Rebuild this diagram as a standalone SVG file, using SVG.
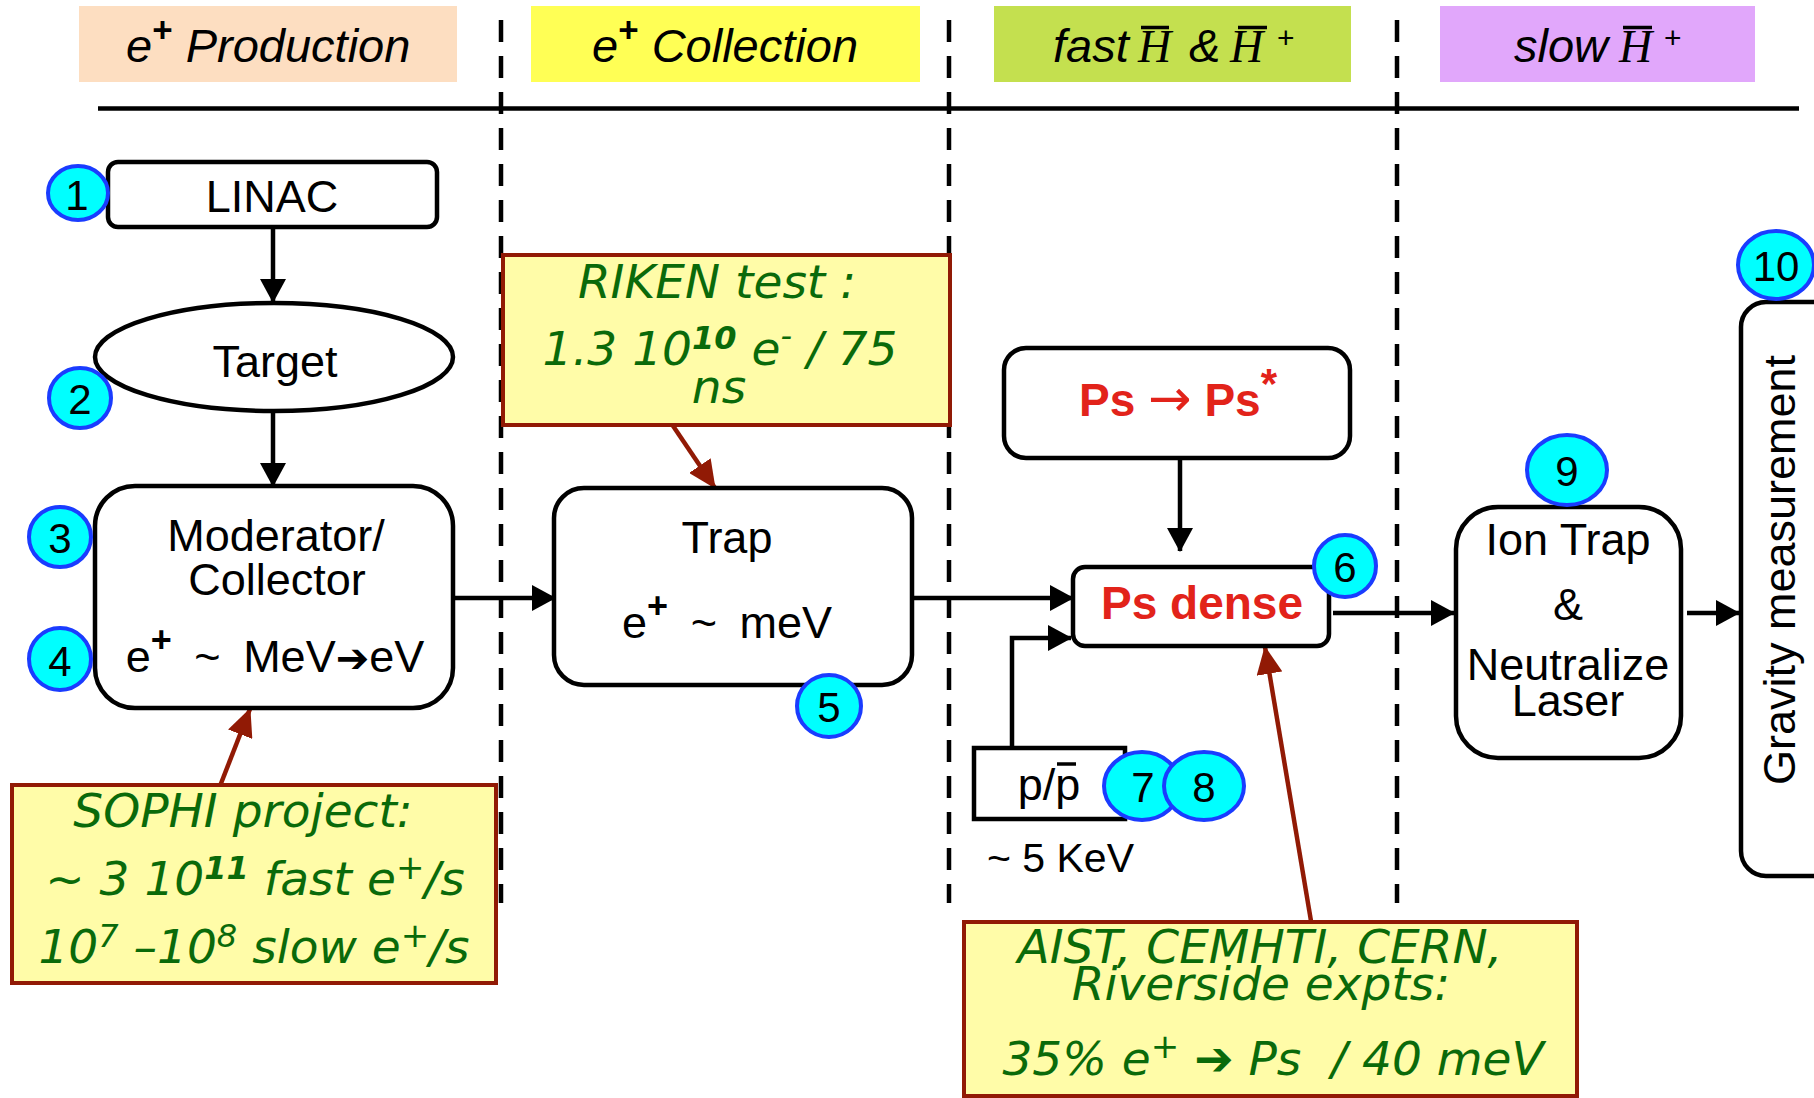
<svg xmlns="http://www.w3.org/2000/svg" width="1814" height="1098" viewBox="0 0 1814 1098">
<style>
.lbl{font-family:"Liberation Sans",Arial,sans-serif;font-size:45px;fill:#000;text-anchor:middle}
.hdr{font-family:"Liberation Sans",Arial,sans-serif;font-size:47px;font-style:italic;fill:#000}
.hser{font-family:"Liberation Serif","Times New Roman",serif;font-style:italic;font-size:46px;fill:#000}
.box{fill:#fff;stroke:#000;stroke-width:4.5}
.badge ellipse{fill:#00FFFF;stroke:#1A3CFF;stroke-width:4}
.badge text{font-family:"Liberation Sans",Arial,sans-serif;font-size:42px;fill:#000;text-anchor:middle}
.call rect{fill:#FFFCA8;stroke:#911A05;stroke-width:4}
.ct{font-family:"DejaVu Sans",Verdana,sans-serif;font-style:italic;font-size:47px;fill:#0A6A0A;text-anchor:middle}
.conn{stroke:#000;stroke-width:4.5;fill:none}
.rconn{stroke:#911A05;stroke-width:4.5;fill:none}
.dash{stroke:#000;stroke-width:4.5;stroke-dasharray:22 14}
.red{font-family:"Liberation Sans",Arial,sans-serif;font-weight:bold;font-size:46px;fill:#E2231A;text-anchor:middle}
.bar{stroke:#000;stroke-width:3.5}
</style>
<defs>
<marker id="ah" markerUnits="userSpaceOnUse" markerWidth="24" markerHeight="26" refX="23" refY="13" orient="auto" viewBox="0 0 24 26"><path d="M0,0 L24,13 L0,26 z" fill="#000"/></marker>
<marker id="rah" markerUnits="userSpaceOnUse" markerWidth="28" markerHeight="26" refX="27" refY="13" orient="auto" viewBox="0 0 28 26"><path d="M0,0 L28,13 L0,26 z" fill="#911A05"/></marker>
</defs>
<rect width="1814" height="1098" fill="#fff"/>

<!-- header -->
<g id="hdr-production">
<rect x="79" y="6" width="378" height="76" fill="#FDDEC1"/>
<text class="hdr" x="126" y="62">e<tspan font-style="normal" font-weight="bold" font-size="35" dy="-20">+</tspan><tspan dy="20"> Production</tspan></text>
</g>
<g id="hdr-collection">
<rect x="531" y="6" width="389" height="76" fill="#FFFF55"/>
<text class="hdr" x="592" y="62">e<tspan font-style="normal" font-weight="bold" font-size="35" dy="-20">+</tspan><tspan dy="20"> Collection</tspan></text>
</g>
<g id="hdr-fast">
<rect x="994" y="6" width="357" height="76" fill="#C4E04F"/>
<text class="hdr" x="1053" y="62">fast</text>
<text class="hser" x="1138" y="62">H</text>
<line class="bar" x1="1141" y1="27.5" x2="1169" y2="27.5"/>
<text class="hdr" x="1189" y="62">&amp;</text>
<text class="hser" x="1230" y="62">H</text>
<line class="bar" x1="1238" y1="27.5" x2="1267" y2="27.5"/>
<text x="1277" y="48" font-family="Liberation Sans, Arial, sans-serif" font-size="30">+</text>
</g>
<g id="hdr-slow">
<rect x="1440" y="6" width="315" height="76" fill="#E1A7FB"/>
<text class="hdr" x="1514" y="62">slow</text>
<text class="hser" x="1619" y="62">H</text>
<line class="bar" x1="1623" y1="27.5" x2="1652" y2="27.5"/>
<text x="1664" y="48" font-family="Liberation Sans, Arial, sans-serif" font-size="30">+</text>
</g>

<g id="rules">
<line x1="98" y1="108.5" x2="1799" y2="108.5" stroke="#000" stroke-width="4.5"/>
<line class="dash" x1="501" y1="20" x2="501" y2="903"/>
<line class="dash" x1="949" y1="20" x2="949" y2="903"/>
<line class="dash" x1="1397" y1="20" x2="1397" y2="903"/>
</g>

<!-- connectors -->
<g id="connectors">
<path class="conn" d="M273,227 V302" marker-end="url(#ah)"/>
<path class="conn" d="M273,411 V486" marker-end="url(#ah)"/>
<path class="conn" d="M454,598 H555" marker-end="url(#ah)"/>
<path class="conn" d="M911,598 H1073" marker-end="url(#ah)"/>
<path class="conn" d="M1180,458 V551" marker-end="url(#ah)"/>
<path class="conn" d="M1012,752 V638 H1071" marker-end="url(#ah)"/>
<path class="conn" d="M1333,613 H1454" marker-end="url(#ah)"/>
<path class="conn" d="M1687,613 H1739" marker-end="url(#ah)"/>
<path class="rconn" d="M642,380 L715,488" marker-end="url(#rah)"/>
<path class="rconn" d="M220,786 L250,709" marker-end="url(#rah)"/>
<path class="rconn" d="M1311,921 L1265,647" marker-end="url(#rah)"/>
</g>

<!-- nodes -->
<g id="linac">
<rect class="box" x="108" y="162" width="329" height="65" rx="10"/>
<text class="lbl" x="272" y="212">LINAC</text>
</g>
<g id="target">
<ellipse class="box" cx="274" cy="357" rx="179" ry="54"/>
<text class="lbl" x="275" y="377">Target</text>
</g>
<g id="moderator">
<rect class="box" x="95" y="486" width="358" height="222" rx="40"/>
<text class="lbl" x="276" y="551" font-size="46">Moderator/</text>
<text class="lbl" x="277" y="595" font-size="46">Collector</text>
<text class="lbl" x="275" y="672" font-size="47" word-spacing="10">e<tspan font-weight="bold" font-size="36" dy="-20">+</tspan><tspan dy="20"> ~ MeV</tspan><tspan font-family="DejaVu Sans, sans-serif" font-size="40">➔</tspan>eV</text>
</g>
<g id="trap">
<rect class="box" x="554" y="488" width="358" height="197" rx="30"/>
<text class="lbl" x="727" y="553">Trap</text>
<text class="lbl" x="727" y="638" font-size="47" word-spacing="10">e<tspan font-weight="bold" font-size="36" dy="-20">+</tspan><tspan dy="20"> ~ meV</tspan></text>
</g>
<g id="ps-excite">
<rect class="box" x="1004" y="348" width="346" height="110" rx="22"/>
<text class="red" x="1178" y="416">Ps <tspan font-family="DejaVu Sans, sans-serif" font-weight="normal" font-size="52">→</tspan> Ps<tspan font-size="42" dy="-18">*</tspan></text>
</g>
<g id="ps-dense">
<rect class="box" x="1073" y="567" width="256" height="79" rx="12"/>
<text class="red" x="1202" y="619">Ps dense</text>
</g>
<g id="pbar">
<rect x="974" y="748" width="151" height="71" fill="#fff" stroke="#000" stroke-width="4.5"/>
<text class="lbl" x="1049" y="800" font-size="44">p/p</text>
<line class="bar" x1="1057" y1="764" x2="1076" y2="764"/>
<text x="987" y="872" font-family="Liberation Sans, Arial, sans-serif" font-size="41" fill="#000">~ 5 KeV</text>
</g>
<g id="ion-trap">
<rect class="box" x="1456" y="507" width="225" height="251" rx="42"/>
<text class="lbl" x="1568" y="555">Ion Trap</text>
<text class="lbl" x="1568" y="620">&amp;</text>
<text class="lbl" x="1568" y="680" font-size="40">Neutralize</text>
<text class="lbl" x="1568" y="716" font-size="40">Laser</text>
</g>
<g id="gravity">
<rect class="box" x="1741" y="302" width="110" height="574" rx="25"/>
<text class="lbl" font-size="46" transform="translate(1795,570) rotate(-90)">Gravity measurement</text>
</g>

<!-- badges -->
<g id="b1" class="badge"><ellipse cx="78" cy="193" rx="30" ry="27"/><text x="77" y="210">1</text></g>
<g id="b2" class="badge"><ellipse cx="80" cy="398" rx="31" ry="30"/><text x="80" y="414">2</text></g>
<g id="b3" class="badge"><ellipse cx="60" cy="537" rx="31" ry="30"/><text x="60" y="553">3</text></g>
<g id="b4" class="badge"><ellipse cx="60" cy="659" rx="31" ry="31"/><text x="60" y="676">4</text></g>
<g id="b5" class="badge"><ellipse cx="829" cy="706" rx="32" ry="31"/><text x="829" y="722">5</text></g>
<g id="b6" class="badge"><ellipse cx="1345" cy="566" rx="31" ry="31"/><text x="1345" y="582">6</text></g>
<g id="b7" class="badge"><ellipse cx="1142" cy="786" rx="38" ry="34"/><text x="1143" y="802">7</text></g>
<g id="b8" class="badge"><ellipse cx="1204" cy="786" rx="40" ry="34"/><text x="1204" y="802">8</text></g>
<g id="b9" class="badge"><ellipse cx="1567" cy="470" rx="40" ry="35"/><text x="1567" y="486">9</text></g>
<g id="b10" class="badge"><ellipse cx="1776" cy="265" rx="38" ry="34"/><text x="1776" y="281" font-size="45">10</text></g>

<!-- callouts -->
<g id="riken" class="call">
<rect x="503" y="255" width="447" height="170"/>
<text class="ct" x="717" y="298" font-size="48">RIKEN test :</text>
<text class="ct" x="720" y="365" font-size="48">1.3 10<tspan font-weight="bold" font-size="32" dy="-16">10</tspan><tspan dy="16"> e</tspan><tspan font-size="32" dy="-18">-</tspan><tspan dy="18"> / 75</tspan></text>
<text class="ct" x="719" y="403" font-size="48">ns</text>
</g>
<g id="sophi" class="call">
<rect x="12" y="785" width="484" height="198"/>
<text class="ct" x="243" y="827" font-size="48">SOPHI project:</text>
<text class="ct" x="255" y="895" font-size="48">~ 3 10<tspan font-weight="bold" font-size="32" dy="-16">11</tspan><tspan dy="16"> fast e</tspan><tspan font-size="34" dy="-16">+</tspan><tspan dy="16">/s</tspan></text>
<text class="ct" x="254" y="963" font-size="48">10<tspan font-size="32" dy="-16">7</tspan><tspan dy="16"> –10</tspan><tspan font-size="32" dy="-16">8</tspan><tspan dy="16"> slow e</tspan><tspan font-size="34" dy="-16">+</tspan><tspan dy="16">/s</tspan></text>
</g>
<g id="aist" class="call">
<rect x="964" y="922" width="613" height="174"/>
<text class="ct" x="1260" y="963" font-size="47">AIST, CEMHTI, CERN,</text>
<text class="ct" x="1261" y="1000" font-size="46">Riverside expts:</text>
<text class="ct" x="1273" y="1075" font-size="48">35% e<tspan font-size="34" dy="-17">+</tspan><tspan dy="17" font-style="normal"> ➔ </tspan>Ps<tspan dx="15"> / 40 meV</tspan></text>
</g>
</svg>
